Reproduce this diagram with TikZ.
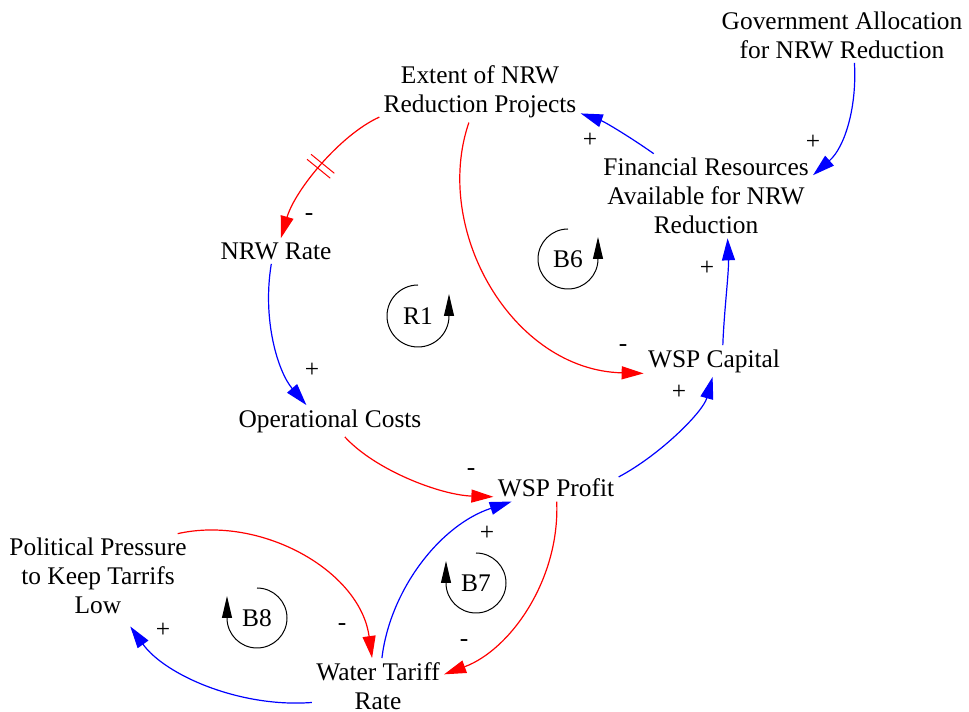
\documentclass[tikz,border=0pt]{standalone}
\usepackage{fontspec}
\setmainfont{Liberation Serif}
\usetikzlibrary{arrows.meta}

\tikzset{
  delaymark/.pic={\draw[-, red, line width=0.5pt] (-1.6pt,-7.5pt) -- (-1.6pt,7.5pt) (1.6pt,-7.5pt) -- (1.6pt,7.5pt);}
}

\begin{document}
\begin{tikzpicture}[x=0.5pt, y=0.5pt,
  font=\fontsize{12.7pt}{14.5pt}\selectfont,
  var/.style={align=center, inner sep=2pt},
  poslink/.style={blue, line width=0.6pt, -{Triangle[length=11pt, width=6.5pt]}},
  neglink/.style={red, line width=0.6pt, -{Triangle[length=11pt, width=6.5pt]}},
  polarity/.style={inner sep=0pt},
  fbloop/.style={black, line width=0.5pt, -{Triangle[length=11pt, width=5pt]}}]

% Canvas
\path[use as bounding box, fill=white] (0,0) rectangle (969,712);

% Variables
\node[var] (gov) at (842,677) {Government Allocation\\for NRW Reduction};
\node[var] (extent) at (480,620) {Extent of NRW\\Reduction Projects};
\node[var] (fin) at (706,516) {Financial Resources\\Available for NRW\\Reduction};
\node[var] (nrw) at (276,461) {NRW Rate};
\node[var] (cap) at (714,351) {WSP Capital};
\node[var] (op) at (330,291) {Operational Costs};
\node[var] (profit) at (556,224) {WSP Profit};
\node[var] (pol) at (98,136) {Political Pressure\\to Keep Tarrifs\\Low};
\node[var] (tariff) at (378,26) {Water Tariff\\Rate};

% Links (upper part)
\draw[neglink] (extent.194) .. controls (340,577) and (295,522) .. pic[pos=0.5, sloped]{delaymark} (nrw.69);
\draw[neglink] (extent.250) .. controls (432,482) and (512,342) .. (cap.190);
\draw[poslink] (fin.141) .. controls (630,575) and (605,590) .. (extent.348);
\draw[poslink] (gov.294) .. controls (857,605) and (845,565) .. (fin.11);
\draw[poslink] (cap.61) .. controls (724,400) and (729,440) .. (fin.297);
\draw[poslink] (nrw.250) .. controls (262,392) and (278,340) .. (op.146);

% Links (lower part)
\draw[neglink] (op.313) .. controls (375,242) and (440,217) .. (profit.188);
\draw[poslink] (profit.10) .. controls (660,257) and (703,300) .. (cap.265);
\draw[poslink] (tariff.82) .. controls (390,122) and (440,187) .. (profit.197);
\draw[neglink] (profit.273) .. controls (560,132) and (510,62) .. (tariff.10);
\draw[neglink] (pol.28) .. controls (260,197) and (360,142) .. (tariff.102);
\draw[poslink, shorten >=5pt] (tariff.194) .. controls (240,4) and (165,37) .. (pol.302);

% Polarities
\node[polarity] (s1) at (309,495) {-};
\node[polarity] (s2) at (623,364) {-};
\node[polarity] (s3) at (590,572) {+};
\node[polarity] (s4) at (813,570) {+};
\node[polarity] (s5) at (707,444) {+};
\node[polarity] (s6) at (312,342) {+};
\node[polarity] (s7) at (471,240) {-};
\node[polarity] (s8) at (679,320) {+};
\node[polarity] (s9) at (487,179) {+};
\node[polarity] (s10) at (464,69) {-};
\node[polarity] (s11) at (342,85) {-};
\node[polarity] (s12) at (163,82) {+};

% Loop markers
\node (r1) at (418,396) {R1};
\draw[fbloop] (r1.center) ++(90:15.5pt) arc[start angle=90, end angle=360, radius=15.5pt] -- ++(0pt,11pt);
\node (b6) at (568,453) {B6};
\draw[fbloop] (b6.center) ++(90:15pt) arc[start angle=90, end angle=360, radius=15pt] -- ++(0pt,11pt);
\node (b7) at (476,129) {B7};
\draw[fbloop] (b7.center) ++(90:15pt) arc[start angle=90, end angle=-180, radius=15pt] -- ++(0pt,11pt);
\node (b8) at (257,94) {B8};
\draw[fbloop] (b8.center) ++(90:15pt) arc[start angle=90, end angle=-180, radius=15pt] -- ++(0pt,11pt);

\end{tikzpicture}
\end{document}
